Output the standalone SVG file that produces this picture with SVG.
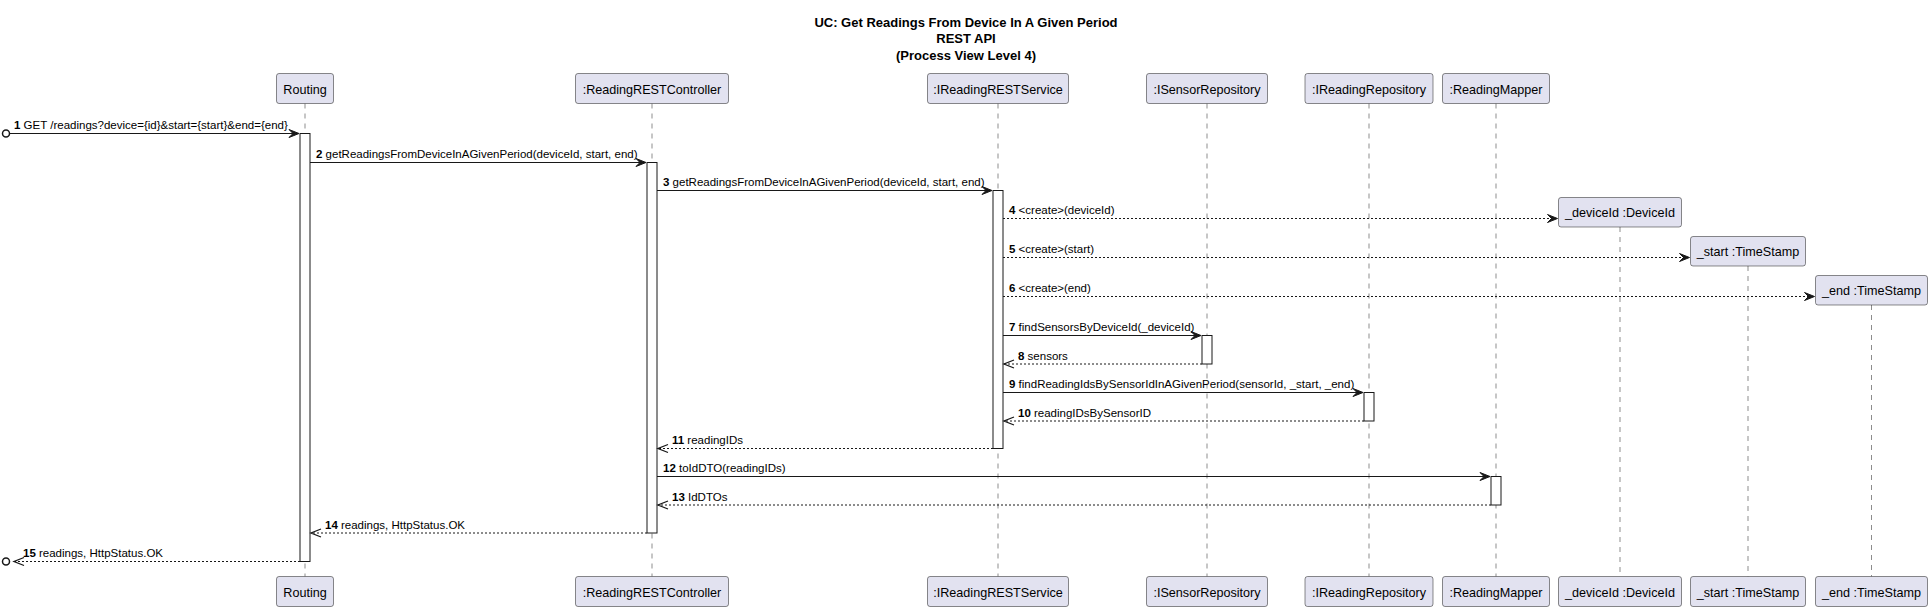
<svg xmlns="http://www.w3.org/2000/svg" width="1932" height="610" viewBox="0 0 1932 610">
<style>
.bg{fill:#FFFFFF}
.title{font-family:"Liberation Sans",Arial,sans-serif;font-size:13px;font-weight:bold;fill:#000;text-anchor:middle}
.pbox{fill:#E2E2F0;stroke:#181818;stroke-width:0.5}
.ptext{font-family:"Liberation Sans",Arial,sans-serif;font-size:12.6px;fill:#000;text-anchor:middle}
.life{stroke:#181818;stroke-width:0.5;stroke-dasharray:5,5;fill:none}
.act{fill:#FFFFFF;stroke:#181818;stroke-width:1}
.msg{stroke:#181818;stroke-width:1;fill:none}
.dash{stroke:#181818;stroke-width:1;stroke-dasharray:2,2;fill:none}
.head{fill:#181818;stroke:#181818;stroke-width:1}
.open{stroke:#181818;stroke-width:1.3;fill:none}
.mtext{font-family:"Liberation Sans",Arial,sans-serif;font-size:11.5px;fill:#000}
.num{font-weight:bold}
.ext{fill:none;stroke:#181818;stroke-width:1.5}
</style>
<rect class="bg" x="0" y="0" width="1932" height="610"/>
<g id="title">
<text class="title" x="966" y="26.5">UC: Get Readings From Device In A Given Period</text>
<text class="title" x="966" y="43">REST API</text>
<text class="title" x="966" y="59.5">(Process View Level 4)</text>
</g>
<g id="routing">
<line class="life" x1="305" y1="103.5" x2="305" y2="576.5"/>
<rect class="pbox" x="276.5" y="73.5" width="57" height="30" rx="2.5"/>
<text class="ptext" x="305" y="93.5">Routing</text>
<rect class="pbox" x="276.5" y="576.5" width="57" height="30" rx="2.5"/>
<text class="ptext" x="305" y="596.5">Routing</text>
<rect class="act" x="300" y="133.5" width="10" height="428"/>
</g>
<g id="controller">
<line class="life" x1="652" y1="103.5" x2="652" y2="576.5"/>
<rect class="pbox" x="575.5" y="73.5" width="153" height="30" rx="2.5"/>
<text class="ptext" x="652" y="93.5">:ReadingRESTController</text>
<rect class="pbox" x="575.5" y="576.5" width="153" height="30" rx="2.5"/>
<text class="ptext" x="652" y="596.5">:ReadingRESTController</text>
<rect class="act" x="647" y="162.5" width="10" height="370.5"/>
</g>
<g id="service">
<line class="life" x1="998" y1="103.5" x2="998" y2="576.5"/>
<rect class="pbox" x="927.5" y="73.5" width="141" height="30" rx="2.5"/>
<text class="ptext" x="998" y="93.5">:IReadingRESTService</text>
<rect class="pbox" x="927.5" y="576.5" width="141" height="30" rx="2.5"/>
<text class="ptext" x="998" y="596.5">:IReadingRESTService</text>
<rect class="act" x="993" y="190.5" width="10" height="258"/>
</g>
<g id="sensorRepository">
<line class="life" x1="1207" y1="103.5" x2="1207" y2="576.5"/>
<rect class="pbox" x="1146.5" y="73.5" width="121" height="30" rx="2.5"/>
<text class="ptext" x="1207" y="93.5">:ISensorRepository</text>
<rect class="pbox" x="1146.5" y="576.5" width="121" height="30" rx="2.5"/>
<text class="ptext" x="1207" y="596.5">:ISensorRepository</text>
<rect class="act" x="1202" y="335.5" width="10" height="28.5"/>
</g>
<g id="readingRepository">
<line class="life" x1="1369" y1="103.5" x2="1369" y2="576.5"/>
<rect class="pbox" x="1305" y="73.5" width="128" height="30" rx="2.5"/>
<text class="ptext" x="1369" y="93.5">:IReadingRepository</text>
<rect class="pbox" x="1305" y="576.5" width="128" height="30" rx="2.5"/>
<text class="ptext" x="1369" y="596.5">:IReadingRepository</text>
<rect class="act" x="1364" y="392.5" width="10" height="28.5"/>
</g>
<g id="readingMapper">
<line class="life" x1="1496" y1="103.5" x2="1496" y2="576.5"/>
<rect class="pbox" x="1442.5" y="73.5" width="107" height="30" rx="2.5"/>
<text class="ptext" x="1496" y="93.5">:ReadingMapper</text>
<rect class="pbox" x="1442.5" y="576.5" width="107" height="30" rx="2.5"/>
<text class="ptext" x="1496" y="596.5">:ReadingMapper</text>
<rect class="act" x="1491" y="476.5" width="10" height="28.5"/>
</g>
<g id="deviceId">
<line class="life" x1="1620" y1="227" x2="1620" y2="576.5"/>
<rect class="pbox" x="1558.5" y="197.5" width="123" height="29.5" rx="2.5"/>
<text class="ptext" x="1620" y="217">_deviceId :DeviceId</text>
<rect class="pbox" x="1558.5" y="576.5" width="123" height="30" rx="2.5"/>
<text class="ptext" x="1620" y="596.5">_deviceId :DeviceId</text>
</g>
<g id="start">
<line class="life" x1="1748" y1="266" x2="1748" y2="576.5"/>
<rect class="pbox" x="1690.5" y="236.5" width="115" height="29.5" rx="2.5"/>
<text class="ptext" x="1748" y="256">_start :TimeStamp</text>
<rect class="pbox" x="1690.5" y="576.5" width="115" height="30" rx="2.5"/>
<text class="ptext" x="1748" y="596.5">_start :TimeStamp</text>
</g>
<g id="end">
<line class="life" x1="1871.5" y1="305" x2="1871.5" y2="576.5"/>
<rect class="pbox" x="1815.5" y="275.5" width="112" height="29.5" rx="2.5"/>
<text class="ptext" x="1871.5" y="295">_end :TimeStamp</text>
<rect class="pbox" x="1815.5" y="576.5" width="112" height="30" rx="2.5"/>
<text class="ptext" x="1871.5" y="596.5">_end :TimeStamp</text>
</g>
<g id="connectors">
<circle class="ext" cx="6" cy="133.5" r="3.5"/>
<line class="msg" x1="9.5" y1="133.5" x2="298" y2="133.5"/>
<polygon class="head" points="289,129.5 299,133.5 289,137.5 293,133.5"/>
<text class="mtext" x="14" y="129"><tspan class="num">1</tspan> GET /readings?device={id}&amp;start={start}&amp;end={end}</text>
<line class="msg" x1="310" y1="162.5" x2="645" y2="162.5"/>
<polygon class="head" points="636,158.5 646,162.5 636,166.5 640,162.5"/>
<text class="mtext" x="316" y="158"><tspan class="num">2</tspan> getReadingsFromDeviceInAGivenPeriod(deviceId, start, end)</text>
<line class="msg" x1="657" y1="190.5" x2="991" y2="190.5"/>
<polygon class="head" points="982,186.5 992,190.5 982,194.5 986,190.5"/>
<text class="mtext" x="663" y="186"><tspan class="num">3</tspan> getReadingsFromDeviceInAGivenPeriod(deviceId, start, end)</text>
<line class="dash" x1="1003" y1="218.5" x2="1556" y2="218.5"/>
<polygon class="head" points="1547.5,214.5 1557.5,218.5 1547.5,222.5 1551.5,218.5"/>
<text class="mtext" x="1009" y="214"><tspan class="num">4</tspan> &lt;create&gt;(deviceId)</text>
<line class="dash" x1="1003" y1="257.5" x2="1688" y2="257.5"/>
<polygon class="head" points="1679.5,253.5 1689.5,257.5 1679.5,261.5 1683.5,257.5"/>
<text class="mtext" x="1009" y="253"><tspan class="num">5</tspan> &lt;create&gt;(start)</text>
<line class="dash" x1="1003" y1="296.5" x2="1813" y2="296.5"/>
<polygon class="head" points="1804.5,292.5 1814.5,296.5 1804.5,300.5 1808.5,296.5"/>
<text class="mtext" x="1009" y="292"><tspan class="num">6</tspan> &lt;create&gt;(end)</text>
<line class="msg" x1="1003" y1="335.5" x2="1200" y2="335.5"/>
<polygon class="head" points="1191,331.5 1201,335.5 1191,339.5 1195,335.5"/>
<text class="mtext" x="1009" y="331"><tspan class="num">7</tspan> findSensorsByDeviceId(_deviceId)</text>
<line class="dash" x1="1202" y1="364" x2="1004" y2="364"/>
<polyline class="open" points="1014,360 1004,364 1014,368"/>
<text class="mtext" x="1018" y="359.5"><tspan class="num">8</tspan> sensors</text>
<line class="msg" x1="1003" y1="392.5" x2="1362" y2="392.5"/>
<polygon class="head" points="1353,388.5 1363,392.5 1353,396.5 1357,392.5"/>
<text class="mtext" x="1009" y="388"><tspan class="num">9</tspan> findReadingIdsBySensorIdInAGivenPeriod(sensorId, _start, _end)</text>
<line class="dash" x1="1364" y1="421" x2="1004" y2="421"/>
<polyline class="open" points="1014,417 1004,421 1014,425"/>
<text class="mtext" x="1018" y="416.5"><tspan class="num">10</tspan> readingIDsBySensorID</text>
<line class="dash" x1="993" y1="448.5" x2="658" y2="448.5"/>
<polyline class="open" points="668,444.5 658,448.5 668,452.5"/>
<text class="mtext" x="672" y="444"><tspan class="num">11</tspan> readingIDs</text>
<line class="msg" x1="657" y1="476.5" x2="1489" y2="476.5"/>
<polygon class="head" points="1480,472.5 1490,476.5 1480,480.5 1484,476.5"/>
<text class="mtext" x="663" y="472"><tspan class="num">12</tspan> toIdDTO(readingIDs)</text>
<line class="dash" x1="1491" y1="505" x2="658" y2="505"/>
<polyline class="open" points="668,501 658,505 668,509"/>
<text class="mtext" x="672" y="500.5"><tspan class="num">13</tspan> IdDTOs</text>
<line class="dash" x1="647" y1="533" x2="311" y2="533"/>
<polyline class="open" points="321,529 311,533 321,537"/>
<text class="mtext" x="325" y="528.5"><tspan class="num">14</tspan> readings, HttpStatus.OK</text>
<line class="dash" x1="300" y1="561.5" x2="14" y2="561.5"/>
<polyline class="open" points="24,557.5 14,561.5 24,565.5"/>
<circle class="ext" cx="6" cy="561.5" r="3.5"/>
<text class="mtext" x="23" y="557"><tspan class="num">15</tspan> readings, HttpStatus.OK</text>
</g>
</svg>
